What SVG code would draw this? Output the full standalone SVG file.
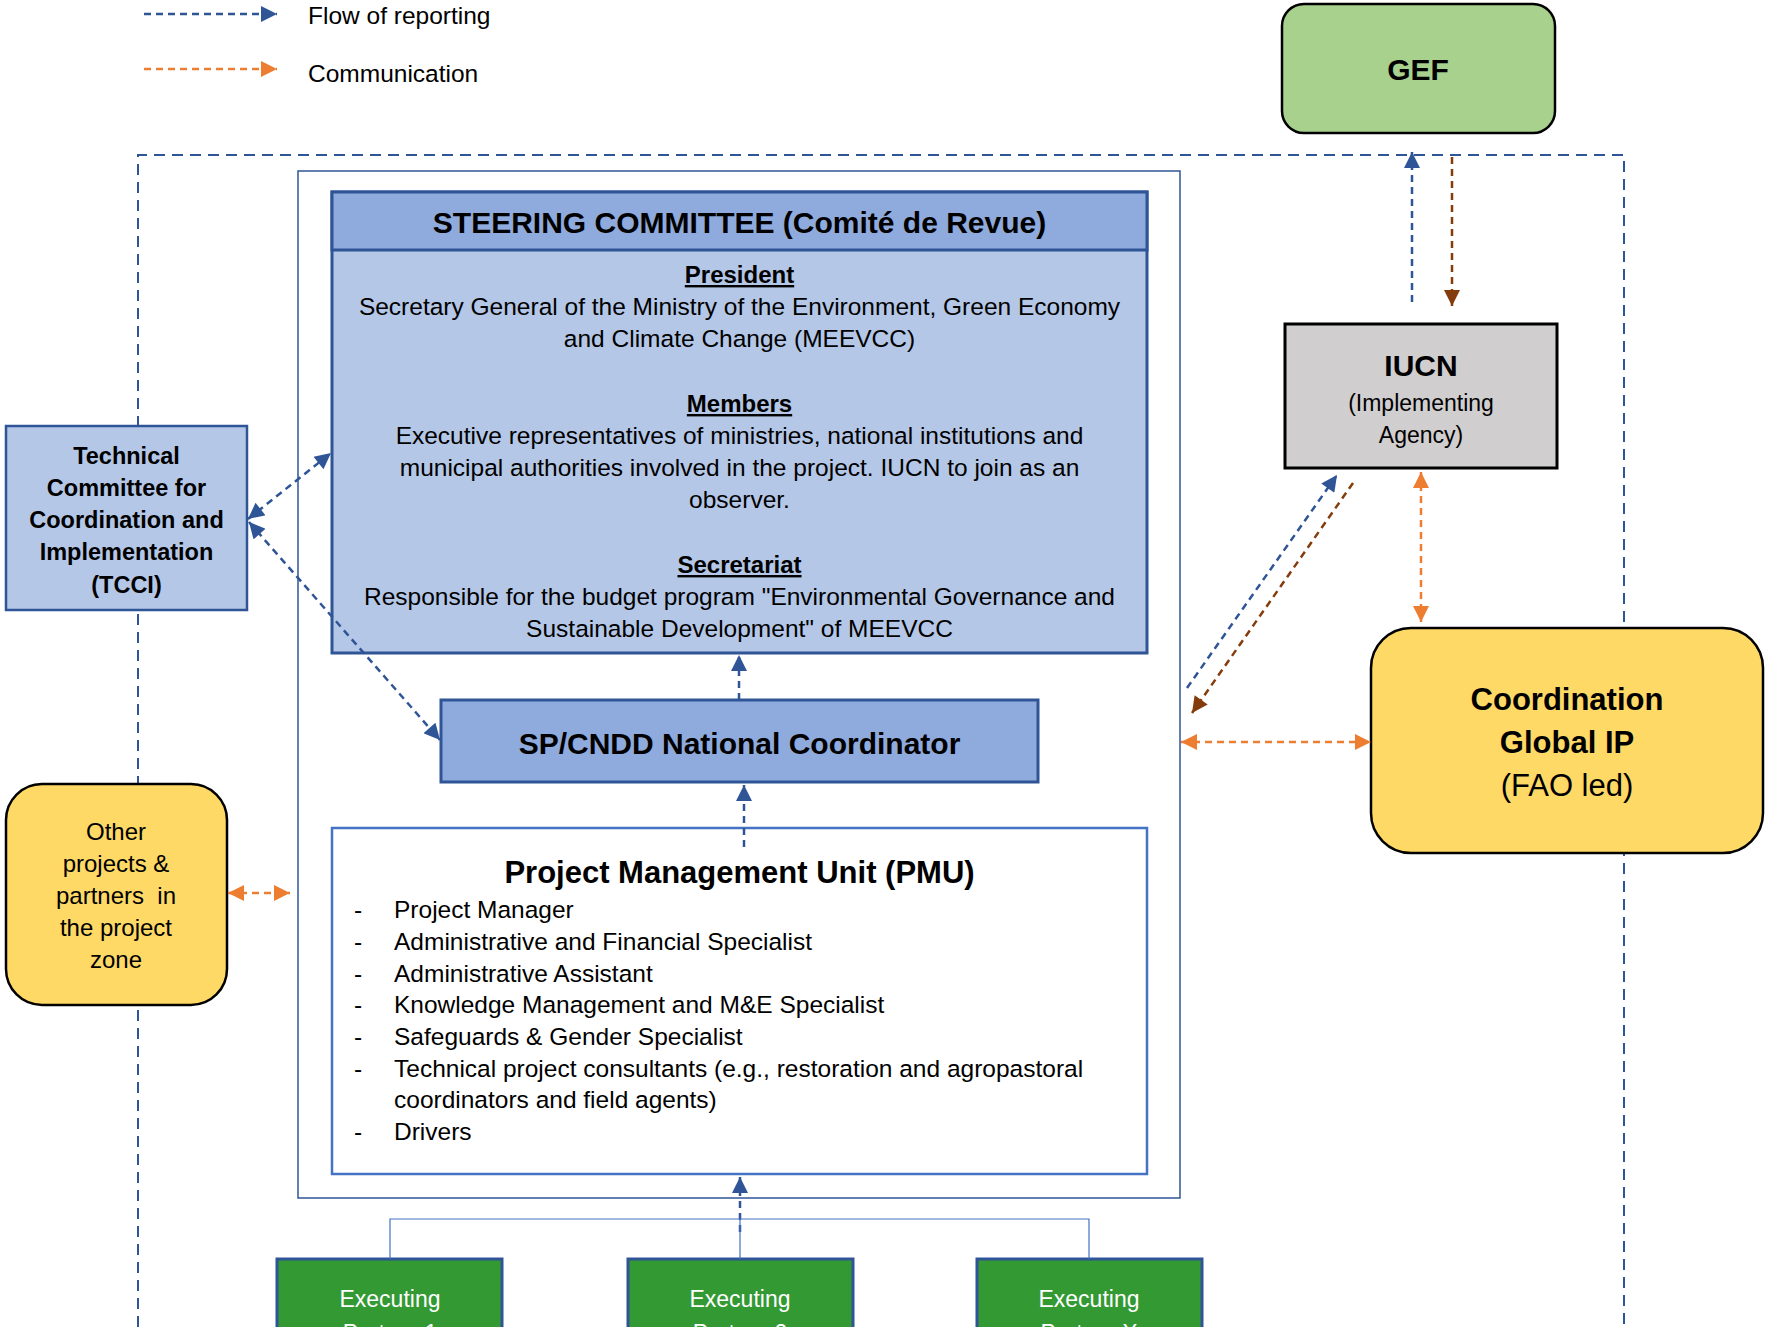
<svg xmlns="http://www.w3.org/2000/svg" width="1769" height="1327" viewBox="0 0 1769 1327">
<style>
text{font-family:"Liberation Sans",Arial,sans-serif;fill:#000}
.b{font-weight:bold}
.c{text-anchor:middle}
.u{text-decoration:underline}
.rep{stroke:#2f5597;stroke-width:2.5;fill:none;stroke-dasharray:7 5}
.com{stroke:#ed7d31;stroke-width:2.5;fill:none;stroke-dasharray:7 5}
.brn{stroke:#843c0c;stroke-width:2.5;fill:none;stroke-dasharray:7 5}
.frame{stroke:#2f5597;stroke-width:2;fill:none;stroke-dasharray:11 7}
.thin{stroke:#4472c4;stroke-width:1.2;fill:none}
</style>
<defs>
<marker id="aB" viewBox="0 0 10 10" refX="10" refY="5" markerWidth="17" markerHeight="16" markerUnits="userSpaceOnUse" orient="auto-start-reverse"><path d="M0,0L10,5L0,10z" fill="#2f5597"/></marker>
<marker id="aO" viewBox="0 0 10 10" refX="10" refY="5" markerWidth="17" markerHeight="16" markerUnits="userSpaceOnUse" orient="auto-start-reverse"><path d="M0,0L10,5L0,10z" fill="#ed7d31"/></marker>
<marker id="aR" viewBox="0 0 10 10" refX="10" refY="5" markerWidth="17" markerHeight="16" markerUnits="userSpaceOnUse" orient="auto-start-reverse"><path d="M0,0L10,5L0,10z" fill="#843c0c"/></marker>
</defs>
<rect width="1769" height="1327" fill="#fff"/>

<g id="legend">
<line class="rep" x1="144" y1="14" x2="277" y2="14" marker-end="url(#aB)"/>
<text x="308" y="24" font-size="24.5">Flow of reporting</text>
<line class="com" x1="144" y1="69" x2="277" y2="69" marker-end="url(#aO)"/>
<text x="308" y="82" font-size="24.5">Communication</text>
</g>

<g id="frame">
<path class="frame" d="M138,1327V155H1624V1327"/>
<rect x="298" y="171" width="882" height="1027" fill="none" stroke="#2f5597" stroke-width="1.5"/>
</g>

<g id="gef">
<rect x="1282" y="4" width="273" height="129" rx="22" fill="#a9d18e" stroke="#000" stroke-width="2.5"/>
<text class="b c" x="1418" y="80" font-size="30">GEF</text>
</g>

<g id="iucn">
<rect x="1285" y="324" width="272" height="144" fill="#d0cece" stroke="#000" stroke-width="3"/>
<text class="b c" x="1421" y="376" font-size="30">IUCN</text>
<text class="c" x="1421" y="411" font-size="23">(Implementing</text>
<text class="c" x="1421" y="443" font-size="23">Agency)</text>
</g>

<g id="coordination">
<rect x="1371" y="628" width="392" height="225" rx="40" fill="#ffd966" stroke="#000" stroke-width="2.5"/>
<text class="b c" x="1567" y="710" font-size="31">Coordination</text>
<text class="b c" x="1567" y="753" font-size="31">Global IP</text>
<text class="c" x="1567" y="796" font-size="31">(FAO led)</text>
</g>

<g id="tcci">
<rect x="6" y="426" width="241" height="184" fill="#b4c7e7" stroke="#2f5597" stroke-width="2.5"/>
<text class="b c" x="126.5" y="464" font-size="23.5">Technical</text>
<text class="b c" x="126.5" y="496" font-size="23.5">Committee for</text>
<text class="b c" x="126.5" y="528" font-size="23.5">Coordination and</text>
<text class="b c" x="126.5" y="560" font-size="23.5">Implementation</text>
<text class="b c" x="126.5" y="593" font-size="23.5">(TCCI)</text>
</g>

<g id="other">
<rect x="6" y="784" width="221" height="221" rx="36" fill="#ffd966" stroke="#000" stroke-width="2.5"/>
<text class="c" x="116" y="840" font-size="24">Other</text>
<text class="c" x="116" y="872" font-size="24">projects &amp;</text>
<text class="c" x="116" y="904" font-size="24" xml:space="preserve">partners  in</text>
<text class="c" x="116" y="936" font-size="24">the project</text>
<text class="c" x="116" y="968" font-size="24">zone</text>
</g>

<g id="steering">
<rect x="332" y="192" width="815" height="461" fill="#b4c7e7" stroke="#2f5597" stroke-width="3"/>
<rect x="332" y="192" width="815" height="58" fill="#8faadc" stroke="#2f5597" stroke-width="3"/>
<text class="b c" x="739.5" y="233" font-size="30">STEERING COMMITTEE (Comité de Revue)</text>
<text class="b c u" x="739.5" y="283" font-size="24">President</text>
<text class="c" x="739.5" y="315" font-size="24.5">Secretary General of the Ministry of the Environment, Green Economy</text>
<text class="c" x="739.5" y="347" font-size="24.5">and Climate Change (MEEVCC)</text>
<text class="b c u" x="739.5" y="412" font-size="24">Members</text>
<text class="c" x="739.5" y="444" font-size="24.5">Executive representatives of ministries, national institutions and</text>
<text class="c" x="739.5" y="476" font-size="24.5">municipal authorities involved in the project. IUCN to join as an</text>
<text class="c" x="739.5" y="508" font-size="24.5">observer.</text>
<text class="b c u" x="739.5" y="573" font-size="24">Secretariat</text>
<text class="c" x="739.5" y="605" font-size="24.5">Responsible for the budget program "Environmental Governance and</text>
<text class="c" x="739.5" y="637" font-size="24.5">Sustainable Development" of MEEVCC</text>
</g>

<g id="spcndd">
<rect x="441" y="700" width="597" height="82" fill="#8faadc" stroke="#2f5597" stroke-width="3"/>
<text class="b c" x="739.5" y="754" font-size="30">SP/CNDD National Coordinator</text>
</g>

<g id="pmu">
<rect x="332" y="828" width="815" height="346" fill="#fff" stroke="#4472c4" stroke-width="2.5"/>
<text class="b c" x="739.5" y="883" font-size="31">Project Management Unit (PMU)</text>
<g font-size="24.5">
<text x="354" y="918">-</text><text x="394" y="918">Project Manager</text>
<text x="354" y="950">-</text><text x="394" y="950">Administrative and Financial Specialist</text>
<text x="354" y="982">-</text><text x="394" y="982">Administrative Assistant</text>
<text x="354" y="1013">-</text><text x="394" y="1013">Knowledge Management and M&amp;E Specialist</text>
<text x="354" y="1045">-</text><text x="394" y="1045">Safeguards &amp; Gender Specialist</text>
<text x="354" y="1077">-</text><text x="394" y="1077">Technical project consultants (e.g., restoration and agropastoral</text>
<text x="394" y="1108">coordinators and field agents)</text>
<text x="354" y="1140">-</text><text x="394" y="1140">Drivers</text>
</g>
</g>

<g id="exec1">
<rect x="277" y="1259" width="225" height="90" fill="#339933" stroke="#2f5597" stroke-width="3"/>
<text class="c" x="390" y="1307" font-size="23" style="fill:#fff">Executing</text>
<text class="c" x="390" y="1341" font-size="23" style="fill:#fff">Partner 1</text>
</g>
<g id="exec2">
<rect x="628" y="1259" width="225" height="90" fill="#339933" stroke="#2f5597" stroke-width="3"/>
<text class="c" x="740" y="1307" font-size="23" style="fill:#fff">Executing</text>
<text class="c" x="740" y="1341" font-size="23" style="fill:#fff">Partner 2</text>
</g>
<g id="execX">
<rect x="977" y="1259" width="225" height="90" fill="#339933" stroke="#2f5597" stroke-width="3"/>
<text class="c" x="1089" y="1307" font-size="23" style="fill:#fff">Executing</text>
<text class="c" x="1089" y="1341" font-size="23" style="fill:#fff">Partner X</text>
</g>

<g id="connectors">
<line class="rep" x1="1412" y1="302" x2="1412" y2="152" marker-end="url(#aB)"/>
<line class="brn" x1="1452" y1="157" x2="1452" y2="306" marker-end="url(#aR)"/>
<line class="com" x1="1421" y1="472" x2="1421" y2="622" marker-start="url(#aO)" marker-end="url(#aO)"/>
<line class="rep" x1="1187" y1="688" x2="1337" y2="475" marker-end="url(#aB)"/>
<line class="brn" x1="1353" y1="483" x2="1192" y2="713" marker-end="url(#aR)"/>
<line class="com" x1="1181" y1="742" x2="1371" y2="742" marker-start="url(#aO)" marker-end="url(#aO)"/>
<line class="com" x1="228" y1="893" x2="290" y2="893" marker-start="url(#aO)" marker-end="url(#aO)"/>
<line class="rep" x1="248" y1="519" x2="331" y2="453" marker-start="url(#aB)" marker-end="url(#aB)"/>
<line class="rep" x1="249" y1="522" x2="440" y2="740" marker-start="url(#aB)" marker-end="url(#aB)"/>
<line class="rep" x1="739" y1="700" x2="739" y2="655" marker-end="url(#aB)"/>
<line class="rep" x1="744" y1="847" x2="744" y2="785" marker-end="url(#aB)"/>
<line class="rep" x1="740" y1="1232" x2="740" y2="1177" marker-end="url(#aB)"/>
<path class="thin" d="M390,1259V1219H1089V1259M740,1219V1259"/>
</g>
</svg>
